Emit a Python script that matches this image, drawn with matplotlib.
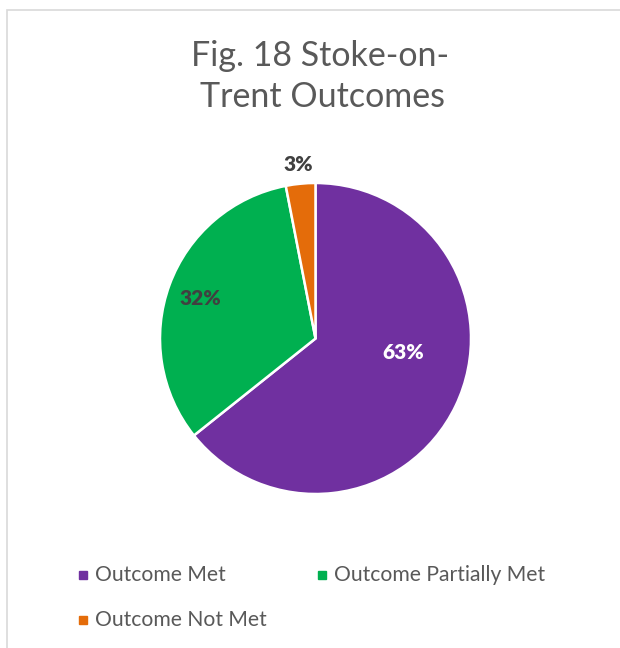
import matplotlib.pyplot as plt
from matplotlib.patches import Rectangle

categories = ['Outcome Met', 'Outcome Partially Met', 'Outcome Not Met']
values = [63, 32, 3]
colors = ['#7030A0', '#00B050', '#E46C0A']
pct_labels = ['63%', '32%', '3%']

plt.rcParams['font.family'] = ['Lato', 'DejaVu Sans']
W, H = 620, 648
fig = plt.figure(figsize=(W / 100, H / 100), dpi=100)

def fx(px):
    return px / W

def fy(py):
    return 1 - py / H

# chart border
fig.patches.append(Rectangle((fx(7), fy(660)), fx(640) - fx(7), fy(10) - fy(660),
                             transform=fig.transFigure, fill=False,
                             edgecolor='#D9D9D9', lw=1.2))

# title
fig.text(fx(320), fy(66), 'Fig. 18 Stoke-on-', ha='center', va='baseline',
         fontsize=24.5, color='#595959')
fig.text(fx(322), fy(107), 'Trent Outcomes', ha='center', va='baseline',
         fontsize=24.5, color='#595959')

cx, cy, r = 315.5, 338.5, 155.5
ax = fig.add_axes([fx(cx - r), fy(cy + r), fx(2 * r), (2 * r) / H])
ax.pie(values, colors=colors, startangle=90, counterclock=False, radius=1,
       wedgeprops=dict(edgecolor='white', linewidth=1.8))
ax.set_xlim(-1, 1)
ax.set_ylim(-1, 1)
ax.set_aspect('equal')
ax.axis('off')

label_pos = [(0.563, -0.093), (-0.74, 0.257), (-0.113, 1.116)]
label_col = ['white', '#404040', '#404040']
for txt, (lx, ly), c in zip(pct_labels, label_pos, label_col):
    ax.text(lx, ly, txt, ha='center', va='center', fontsize=15,
            fontweight='heavy', color=c, clip_on=False)

# legend
leg_pos = [(83, 575), (322, 575), (83, 620)]
for name, c, (sx, sy) in zip(categories, colors, leg_pos):
    s = 8
    fig.patches.append(Rectangle((fx(sx - s / 2), fy(sy + s / 2)), s / W, s / H,
                                 transform=fig.transFigure, color=c))
    fig.text(fx(sx + 12), fy(sy), name, ha='left', va='center',
             fontsize=15.2, color='#595959')

fig.savefig('out.png', dpi=100)
